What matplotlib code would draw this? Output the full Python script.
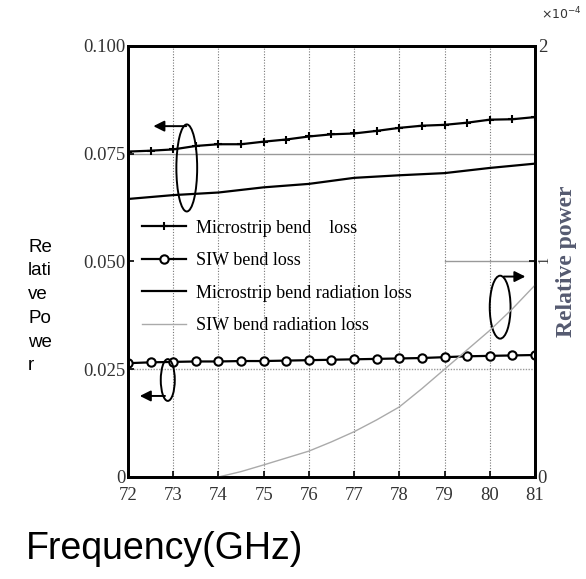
import numpy as np
import matplotlib
matplotlib.use("Agg")
from matplotlib import pyplot as plt
from matplotlib.patches import Ellipse

# frequency points (GHz)
freq = [72, 72.5, 73, 73.5, 74, 74.5, 75, 75.5, 76, 76.5, 77, 77.5, 78, 78.5,
        79, 79.5, 80, 80.5, 81]
microstrip_loss = [0.0755, 0.0757, 0.0760, 0.0768, 0.0772, 0.0772, 0.0778,
                   0.0783, 0.0790, 0.0795, 0.0797, 0.0803, 0.0810, 0.0815,
                   0.0817, 0.0822, 0.0829, 0.0830, 0.0835]
siw_loss = [0.0264, 0.0266, 0.0267, 0.0268, 0.0268, 0.0269, 0.0269, 0.0270,
            0.0271, 0.0272, 0.0273, 0.0274, 0.0275, 0.0276, 0.0278, 0.0280,
            0.0281, 0.0282, 0.0283]

freq_rad = [72, 73, 74, 75, 76, 77, 78, 79, 80, 81]
microstrip_rad = [0.0645, 0.0654, 0.0660, 0.0672, 0.0680, 0.0694, 0.0700,
                  0.0705, 0.0717, 0.0727]

# SIW radiation loss, right axis (x1e-4)
freq_siw_rad = [74, 74.5, 75, 75.5, 76, 76.5, 77, 77.5, 78, 78.5, 79, 79.5, 80, 80.5, 81]
siw_rad = [0.0, 0.025, 0.056, 0.088, 0.12, 0.163, 0.21, 0.265, 0.325, 0.41,
           0.50, 0.59, 0.68, 0.78, 0.89]

x_ticks = [72, 73, 74, 75, 76, 77, 78, 79, 80, 81]
y_ticks = [0, 0.025, 0.050, 0.075, 0.100]
y_tick_labels = ["0", "0.025", "0.050", "0.075", "0.100"]
y2_ticks = [0, 1, 2]

serif = "Liberation Serif"

fig = plt.figure(figsize=(5.86, 5.79), dpi=100)
ax = fig.add_axes([0.2184, 0.1762, 0.6945, 0.7444])
ax2 = ax.twinx()

ax.set_xlim(72, 81)
ax.set_ylim(0, 0.1)
ax2.set_ylim(0, 2)

# grid
for x in x_ticks[1:-1]:
    ax.axvline(x, color="#777777", lw=0.8, ls=(0, (1, 1.5)), zorder=0)
ax.axhline(0.075, color="#999999", lw=1.0, zorder=0)
ax.axhline(0.025, color="#999999", lw=1.0, ls=(0, (1, 1)), zorder=0)
ax.axhline(0.050, xmin=0.78, color="#999999", lw=1.0, zorder=0)

l1, = ax.plot(freq, microstrip_loss, color="black", lw=1.6, marker="+",
              ms=6, mew=1.5, label="Microstrip bend    loss")
l2, = ax.plot(freq, siw_loss, color="black", lw=1.6, marker="o", ms=6,
              mfc="white", mew=1.5, label="SIW bend loss")
l3, = ax.plot(freq_rad, microstrip_rad, color="black", lw=1.6,
              label="Microstrip bend radiation loss")
l4, = ax2.plot(freq_siw_rad, siw_rad, color="#aaaaaa", lw=1.0,
               label="SIW bend radiation loss")

leg = ax.legend(handles=[l1, l2, l3, l4], loc="upper left",
                bbox_to_anchor=(-0.005, 0.635), frameon=False, handlelength=2.4,
                handletextpad=0.6, labelspacing=0.86,
                prop={"family": serif, "size": 13})

# ellipses and arrows
ax.add_patch(Ellipse((73.3, 0.0717), 0.46, 0.0202, fill=False, lw=1.4,
                     ec="black", zorder=5))
ax.annotate("", xy=(72.5, 0.0814), xytext=(73.35, 0.0814),
            arrowprops=dict(arrowstyle="-|>", color="black", lw=1.4,
                            mutation_scale=16))
ax.add_patch(Ellipse((72.88, 0.0225), 0.31, 0.0097, fill=False, lw=1.4,
                     ec="black", zorder=5))
ax.annotate("", xy=(72.2, 0.0188), xytext=(72.88, 0.0188),
            arrowprops=dict(arrowstyle="-|>", color="black", lw=1.4,
                            mutation_scale=16))
ax.add_patch(Ellipse((80.23, 0.0394), 0.46, 0.0146, fill=False, lw=1.4,
                     ec="black", zorder=5))
ax.annotate("", xy=(80.85, 0.0465), xytext=(80.25, 0.0465),
            arrowprops=dict(arrowstyle="-|>", color="black", lw=1.4,
                            mutation_scale=16))

# axes styling
ax.set_xticks(x_ticks)
ax.set_yticks(y_ticks)
ax.set_yticklabels(y_tick_labels)
ax2.set_yticks(y2_ticks)
for a in (ax, ax2):
    for s in a.spines.values():
        s.set_linewidth(2)
    a.tick_params(direction="in", length=4, width=1.2, labelsize=13.5,
                  labelcolor="#333333", pad=2)
    for lab in a.get_xticklabels() + a.get_yticklabels():
        lab.set_family(serif)
ax.tick_params(axis="x", pad=7)
ax2.get_yticklabels()[1].set_rotation(90)
ax2.get_yticklabels()[1].set_fontsize(10)

ax2.set_ylabel("Relative power", family=serif, fontsize=17, weight="bold",
               color="#555a70", labelpad=4)
fig.text(0.993, 0.962, r"$\times10^{-4}$", fontsize=9, family=serif,
         color="#333333", ha="right", va="bottom")

fig.text(0.048, 0.588, "Re\nlati\nve\nPo\nwe\nr", fontsize=13.5,
         family="Liberation Sans", va="top", ha="left", linespacing=1.52)
fig.text(0.045, 0.052, "Frequency(GHz)", fontsize=27,
         family="Liberation Sans", va="center", ha="left")

fig.savefig("out.png", dpi=100)
